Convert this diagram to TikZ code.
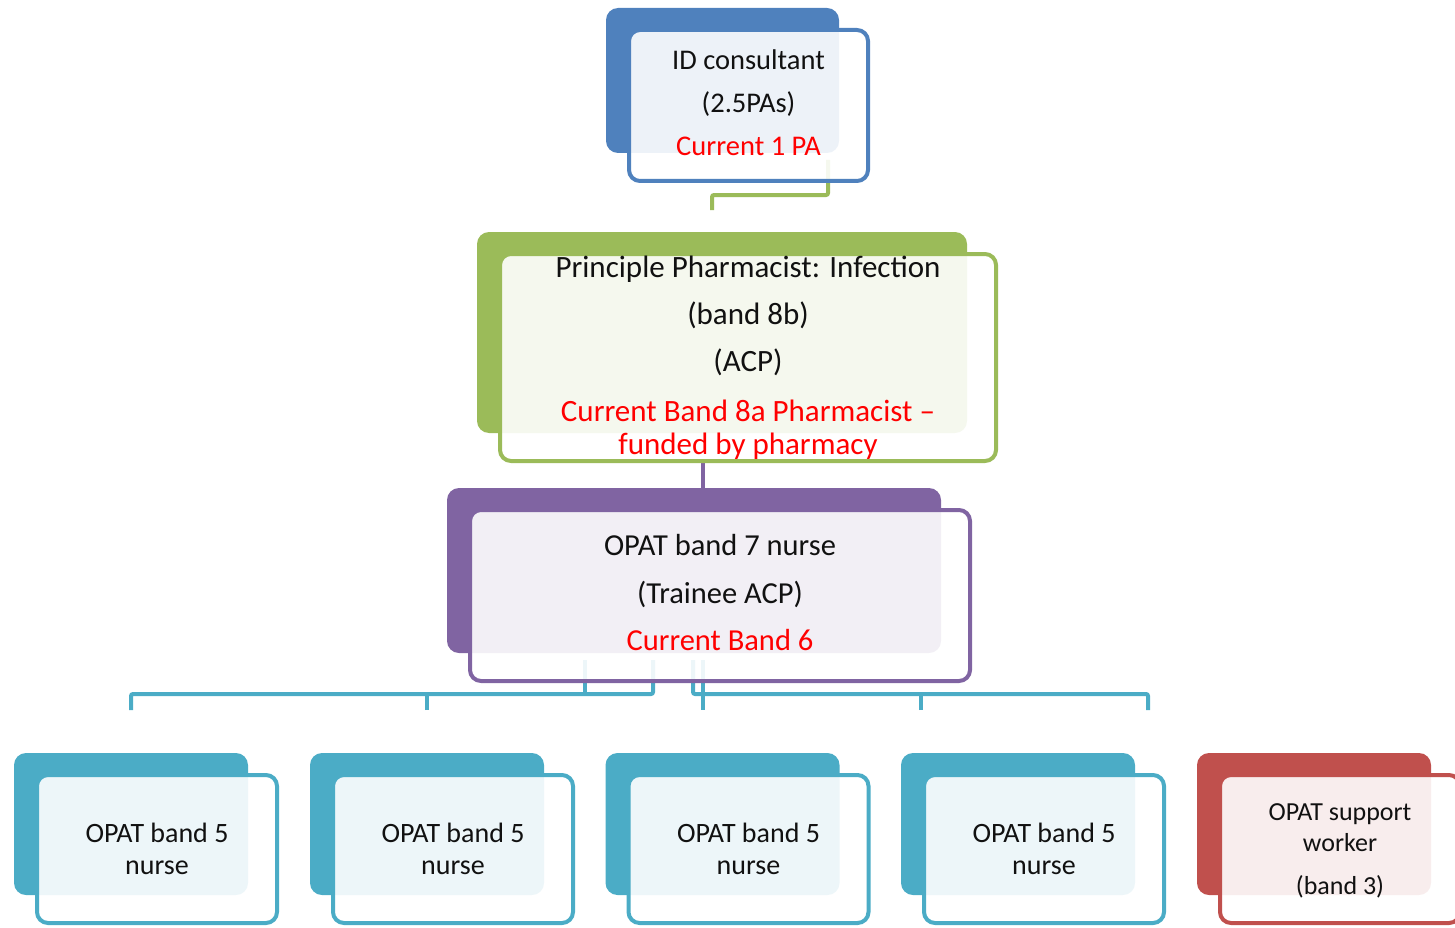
\documentclass[tikz,border=0pt]{standalone}
\usepackage{fontspec}
\setmainfont{Carlito}
\usetikzlibrary{backgrounds,calc}
\definecolor{cblue}{HTML}{4F81BD}
\definecolor{cgreen}{HTML}{9BBB59}
\definecolor{cpurple}{HTML}{8064A2}
\definecolor{cteal}{HTML}{4BACC6}
\definecolor{cred}{HTML}{C0504D}
\definecolor{redtxt}{HTML}{FF0000}
\definecolor{txt}{HTML}{111111}
\tikzset{
  front/.style={draw=#1, line width=4pt, rounded corners=11pt, fill=white,
    fill opacity=0.9, text opacity=1, draw opacity=1, align=center,
    inner sep=0pt, outer sep=0pt, text=txt},
  backbox/.style={fill=#1, rounded corners=12pt},
  conn/.style={draw=#1, line width=4pt, rounded corners=2pt},
  small/.style={minimum width=240pt, minimum height=148pt},
}
\newcommand{\backof}[2]{\fill[backbox=#2] ([xshift=-23pt,yshift=22pt]#1.north west) rectangle ([xshift=-29pt,yshift=28pt]#1.south east);}
\begin{document}
\begin{tikzpicture}[x=1pt,y=-1pt]
\useasboundingbox (0,0) rectangle (1455,928);
% front boxes
\node[front=cblue, minimum width=239pt, minimum height=151pt, text depth=6pt,
  font=\fontsize{28.5}{43}\selectfont] (id) at (748.5,105.5)
  {ID consultant\\(2.5PAs)\\\textcolor{redtxt}{Current 1 PA}};
\node[front=cgreen, minimum width=496pt, minimum height=207pt,
  font=\fontsize{31}{33}\selectfont] (pp) at (748,357.5)
  {Principle Pharmacist: Infection\\[14pt](band 8b)\\[14pt](ACP)\\[17pt]%
   \textcolor{redtxt}{Current Band 8a Pharmacist –}\\\textcolor{redtxt}{funded by pharmacy}};
\node[front=cpurple, minimum width=500pt, minimum height=171pt, text depth=6pt,
  font=\fontsize{30.5}{47.5}\selectfont] (n7) at (720,595.5)
  {OPAT band 7 nurse\\(Trainee ACP)\\\textcolor{redtxt}{Current Band 6}};
\node[front=cteal, small, font=\fontsize{28}{32}\selectfont] (b1) at (157,849) {OPAT band 5\\nurse};
\node[front=cteal, small, font=\fontsize{28}{32}\selectfont] (b2) at (453,849) {OPAT band 5\\nurse};
\node[front=cteal, small, font=\fontsize{28}{32}\selectfont] (b3) at (748.5,849) {OPAT band 5\\nurse};
\node[front=cteal, small, font=\fontsize{28}{32}\selectfont] (b4) at (1044,849) {OPAT band 5\\nurse};
\node[front=cred, small, text depth=0pt, font=\fontsize{26}{31}\selectfont] (sw) at (1340,849) {OPAT support\\worker\\[12pt](band 3)};
% free ends of connectors
\coordinate (g1) at (712,210);
\coordinate (k1) at (131,710);
\coordinate (k2) at (427,710);
\coordinate (k3) at (703,710);
\coordinate (k4) at (921,710);
\coordinate (k5) at (1148,710);
\begin{scope}[on background layer]
  % connectors
  \draw[conn=cgreen] ([xshift=-40pt,yshift=21pt]id.south east) -- ++(0,35) -| (g1);
  \draw[conn=cpurple] ([xshift=-45pt]pp.south) -- ([xshift=-17pt]n7.north);
  \draw[conn=cteal] ([xshift=-67pt,yshift=21pt]n7.south) -- ++(0,34) -| (k1);
  \draw[conn=cteal] ([xshift=-135pt,yshift=21pt]n7.south) -- ++(0,34);
  \draw[conn=cteal] (k2) -- ++(0,-16);
  \draw[conn=cteal] ([xshift=-27pt,yshift=21pt]n7.south) -- ++(0,34) -| (k5);
  \draw[conn=cteal] ([xshift=-17pt,yshift=21pt]n7.south) -- (k3);
  \draw[conn=cteal] (k4) -- ++(0,-16);
  % back boxes
  \backof{id}{cblue}
  \backof{pp}{cgreen}
  \backof{n7}{cpurple}
  \backof{b1}{cteal}
  \backof{b2}{cteal}
  \backof{b3}{cteal}
  \backof{b4}{cteal}
  \backof{sw}{cred}
\end{scope}
\end{tikzpicture}
\end{document}
